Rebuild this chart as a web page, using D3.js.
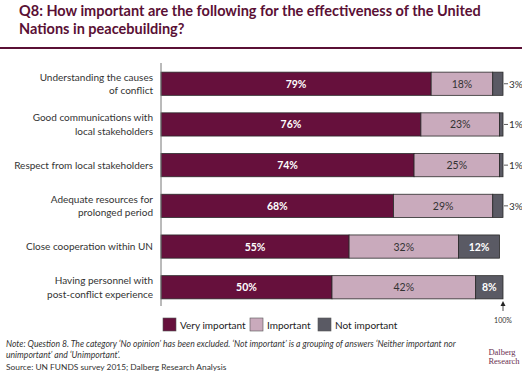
<!DOCTYPE html>
<html>
<head>
<meta charset="utf-8">
<script src="https://cdn.jsdelivr.net/npm/d3@7"></script>
<style>
  body { margin: 0; background: #fff; }
  svg { font-family: Lato, "Open Sans", sans-serif; }
</style>
</head>
<body>
<div id="chart"></div>
<script>
const categories = [
    ["Understanding the causes", "of conflict"],
    ["Good communications with", "local stakeholders"],
    ["Respect from local stakeholders"],
    ["Adequate resources for", "prolonged period"],
    ["Close cooperation within UN"],
    ["Having personnel with", "post-conflict experience"]
];
const veryImportant = [79, 76, 74, 68, 55, 50];
const important = [18, 23, 25, 29, 32, 42];
const notImportant = [3, 1, 1, 3, 12, 8];
const seriesNames = ["Very important", "Important", "Not important"];

let config_size = {
    svg_width: 522,
    svg_height: 377,
    plot: { left: 161, right: 503, top: 63, bottom: 306 },
};
const colors = ["#66103c", "#c9aabc", "#5a5a64"];
const textColors = ["#fff", "#333", "#fff"];

let svg = d3.select("#chart").append("svg")
    .attr("width", config_size.svg_width).attr("height", config_size.svg_height);

// title
let title = svg.append("text").attr("fill", "#5a1035")
    .attr("font-size", 14.5).attr("font-weight", "bold");
title.append("tspan").attr("x", 19).attr("y", 16)
    .text("Q8: How important are the following for the effectiveness of the United");
title.append("tspan").attr("x", 19).attr("y", 34)
    .text("Nations in peacebuilding?");
svg.append("line").attr("x1", 0).attr("x2", 522).attr("y1", 48).attr("y2", 48)
    .attr("stroke", "#5a1035").attr("stroke-width", 2);

let data = categories.map((c, i) => ({
    label: c, vals: [veryImportant[i], important[i], notImportant[i]]
}));

let x = d3.scaleLinear().domain([0, 100])
    .range([config_size.plot.left, config_size.plot.right]);
let y = d3.scaleBand().domain(d3.range(data.length))
    .range([config_size.plot.top + 1, config_size.plot.bottom + 1])
    .paddingInner(0.43).paddingOuter(0.2);

let rows = svg.selectAll("g.row").data(data).join("g").classed("row", true)
    .attr("transform", (d, i) => `translate(0,${y(i)})`);

rows.each(function(d) {
    let g = d3.select(this);
    let acc = 0;
    d.vals.forEach((v, k) => {
        let x0 = x(acc), x1 = x(acc + v);
        g.append("rect").attr("x", x0).attr("y", 0)
            .attr("width", x1 - x0).attr("height", y.bandwidth())
            .attr("fill", colors[k]).attr("stroke", "#2a2a2a").attr("stroke-width", 0.8);
        if (v >= 5) {
            g.append("text").attr("x", (x0 + x1) / 2).attr("y", y.bandwidth() / 2 + 4)
                .attr("text-anchor", "middle").attr("font-size", 10.5)
                .attr("font-weight", k === 1 ? "normal" : "bold")
                .attr("fill", textColors[k]).text(v + "%");
        } else {
            g.append("line").attr("x1", x(100) + 1).attr("x2", x(100) + 5)
                .attr("y1", y.bandwidth() / 2).attr("y2", y.bandwidth() / 2)
                .attr("stroke", "#333").attr("stroke-width", 0.8);
            g.append("text").attr("x", x(100) + 6).attr("y", y.bandwidth() / 2 + 4)
                .attr("font-size", 10).attr("fill", "#333").text(v + "%");
        }
        acc += v;
    });
    let lab = g.append("text").attr("text-anchor", "end").attr("font-size", 10)
        .attr("fill", "#333");
    let n = d.label.length;
    d.label.forEach((l, j) => {
        lab.append("tspan").attr("x", 153)
            .attr("y", y.bandwidth() / 2 + 3.5 + (j - (n - 1) / 2) * 13.5)
            .text(l);
    });
});

// axis line
svg.append("line").attr("x1", x(0)).attr("x2", x(0))
    .attr("y1", config_size.plot.top).attr("y2", config_size.plot.bottom)
    .attr("stroke", "#777").attr("stroke-width", 1);

// 100% marker
svg.append("line").attr("x1", x(100)).attr("x2", x(100)).attr("y1", 303).attr("y2", 311)
    .attr("stroke", "#222").attr("stroke-width", 0.8);
svg.append("path").attr("d", `M${x(100) - 2.5},${306} L${x(100)},${301} L${x(100) + 2.5},${306} Z`)
    .attr("fill", "#222");
svg.append("text").attr("x", x(100)).attr("y", 323).attr("text-anchor", "middle")
    .attr("font-size", 7).attr("fill", "#333").text("100%");

// legend
let legendX = [163, 250, 318];
seriesNames.forEach((s, k) => {
    svg.append("rect").attr("x", legendX[k]).attr("y", 318).attr("width", 13).attr("height", 13)
        .attr("fill", colors[k]).attr("stroke", "#555").attr("stroke-width", 0.6);
    svg.append("text").attr("x", legendX[k] + 17).attr("y", 329)
        .attr("font-size", 10).attr("fill", "#222").text(s);
});

// notes
let note = svg.append("text").attr("font-size", 8.6).attr("font-style", "italic").attr("fill", "#333");
note.append("tspan").attr("x", 6).attr("y", 347)
    .text("Note: Question 8. The category ‘No opinion’ has been excluded. ‘Not important’ is a grouping of answers ‘Neither important nor");
note.append("tspan").attr("x", 6).attr("y", 358).text("unimportant’ and ‘Unimportant’.");
svg.append("text").attr("x", 6).attr("y", 370).attr("font-size", 8.4).attr("fill", "#333")
    .text("Source: UN FUNDS survey 2015; Dalberg Research Analysis");

let logo = svg.append("text").attr("font-family", "Liberation Serif, DejaVu Serif, serif")
    .attr("font-size", 8.5).attr("fill", "#6b3050").attr("text-anchor", "middle");
logo.append("tspan").attr("x", 502).attr("y", 355).text("Dalberg");
logo.append("tspan").attr("x", 504).attr("y", 364).text("Research");
</script>
</body>
</html>
